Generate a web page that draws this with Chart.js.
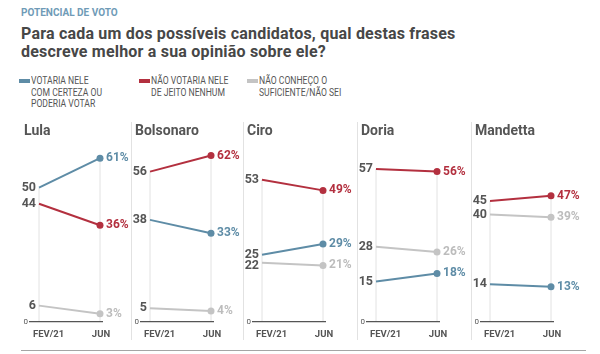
<!DOCTYPE html>
<html>
<head>
<meta charset="utf-8">
<script src="https://cdn.jsdelivr.net/npm/chart.js@4/dist/chart.umd.min.js"></script>
<style>
  body { margin: 0; background: #fff; width: 600px; height: 354px; position: relative; overflow: hidden; font-family: Roboto, "Noto Sans", sans-serif; }
  .kicker { position: absolute; left: 21px; top: 7px; font-size: 10px; font-weight: 700; color: #6f9bb7; }
  .head { position: absolute; left: 21px; top: 25px; font-size: 16px; line-height: 18px; font-weight: 700; color: #474747; letter-spacing: 0.2px; }
  .leg { position: absolute; top: 75px; font-size: 10px; line-height: 11.5px; color: #555; text-transform: uppercase; }
  .leg span.sw { position: absolute; left: -12px; top: 4px; width: 11px; height: 3.5px; }
  .leg div { transform: scaleX(0.86); transform-origin: left; white-space: nowrap; }
  .panel { position: absolute; top: 115px; width: 114px; height: 235px; }
  .sep { position: absolute; top: 122px; height: 218px; width: 1px; background: #e2e2e2; }
  .rule { position: absolute; left: 21px; top: 350px; width: 565px; height: 1px; background: #a5a5a5; }
</style>
</head>
<body>
<div class="kicker">POTENCIAL DE VOTO</div>
<div class="head">Para cada um dos possíveis candidatos, qual destas frases<br>descreve melhor a sua opinião sobre ele?</div>
<div id="legend"></div>
<div id="panels"></div>
<div class="rule"></div>
<script>
// pesquisa: potencial de voto por candidato
const categories = ['FEV/21', 'JUN'];
const candidates = ['Lula', 'Bolsonaro', 'Ciro', 'Doria', 'Mandetta'];
const seriesNames = ['Votaria nele com certeza ou poderia votar', 'Não votaria nele de jeito nenhum', 'Não conheço o suficiente/não sei'];
const votaria = [[50, 61], [38, 33], [25, 29], [15, 18], [14, 13]];
const naoVotaria = [[44, 36], [56, 62], [53, 49], [57, 56], [45, 47]];
const naoConheco = [[6, 3], [5, 4], [22, 21], [28, 26], [40, 39]];

const colors = ['#5e8ca6', '#b3303f', '#c4c4c4'];
const labelColors = ['#5e8ca6', '#b3303f', '#bcbcbc'];
const legendLines = [['Votaria nele', 'com certeza ou', 'poderia votar'], ['Não votaria nele', 'de jeito nenhum'], ['Não conheço o', 'suficiente/não sei']];
const legendX = [31, 151, 259];
const panelLeft = [20, 131, 243, 357, 471];

// legend
const legEl = document.getElementById('legend');
legendLines.forEach((lines, i) => {
  const d = document.createElement('div');
  d.className = 'leg';
  d.style.left = legendX[i] + 'px';
  d.innerHTML = '<span class="sw" style="background:' + colors[i] + '"></span><div>' + lines.join('<br>') + '</div>';
  legEl.appendChild(d);
});

const font = (size, w) => w + ' ' + size + 'px Roboto, "Noto Sans", sans-serif';

const decor = {
  id: 'decor',
  afterDatasetsDraw(chart, args, opts) {
    const ctx = chart.ctx;
    const x = chart.scales.x, y = chart.scales.y;
    const x0 = x.getPixelForValue(0), x1 = x.getPixelForValue(1), yz = y.getPixelForValue(0);
    ctx.save();
    // title
    ctx.fillStyle = '#555';
    ctx.font = font(14, 700);
    ctx.textBaseline = 'middle';
    ctx.textAlign = 'left';
    ctx.fillText(opts.title, 4, 16.5);
    // zero axis
    ctx.strokeStyle = '#555';
    ctx.lineWidth = 1.3;
    ctx.beginPath();
    ctx.moveTo(x0 - 10, yz);
    ctx.lineTo(x1 + 3, yz);
    ctx.stroke();
    ctx.font = font(8, 400);
    ctx.textAlign = 'right';
    ctx.fillStyle = '#555';
    ctx.fillText('0', x0 - 11, yz);
    // category labels
    ctx.font = font(9.5, 700);
    ctx.textAlign = 'left';
    ctx.fillText(categories[0], x0 - 6, 220);
    ctx.textAlign = 'center';
    ctx.fillText(categories[1], x1 + 1, 220);
    // value labels
    const vals = opts.values;
    const left = vals.map((v, i) => ({ v: v[0], i, py: y.getPixelForValue(v[0]) })).sort((a, b) => a.py - b.py);
    for (let k = 1; k < left.length; k++) {
      if (left[k].py - left[k - 1].py < 11) left[k].py = left[k - 1].py + 11;
    }
    ctx.font = font(12.5, 700);
    ctx.textAlign = 'right';
    ctx.fillStyle = '#555';
    left.forEach(l => ctx.fillText(String(l.v), x0 - 3, l.py));
    ctx.textAlign = 'left';
    ctx.font = font(12, 700);
    vals.forEach((v, i) => {
      ctx.fillStyle = labelColors[i];
      ctx.fillText(v[1] + '%', x1 + 6, y.getPixelForValue(v[1]));
    });
    ctx.restore();
  }
};

const panelsEl = document.getElementById('panels');
candidates.forEach((name, p) => {
  if (p > 0) {
    const s = document.createElement('div');
    s.className = 'sep';
    s.style.left = panelLeft[p] + 'px';
    panelsEl.appendChild(s);
  }
  const div = document.createElement('div');
  div.className = 'panel';
  div.style.left = panelLeft[p] + 'px';
  const cv = document.createElement('canvas');
  div.appendChild(cv);
  panelsEl.appendChild(div);

  const vals = [votaria[p], naoVotaria[p], naoConheco[p]];
  const series = vals.map((v, i) => ({
    label: seriesNames[i],
    data: v.map((val, j) => ({ x: j, y: val })),
    borderColor: colors[i],
    backgroundColor: colors[i],
    borderWidth: 2,
    pointRadius: [0, 3.5],
    pointBorderWidth: 0,
    clip: false
  }));
  const grid = [0, 1].map(j => ({
    label: 'grid' + j,
    data: [{ x: j, y: 0 }, { x: j, y: Math.max(...vals.map(v => v[j])) }],
    borderColor: '#e2e2e2',
    borderWidth: 1,
    pointRadius: 0,
    clip: false
  }));

  new Chart(cv, {
    type: 'line',
    data: { datasets: series.concat(grid) },
    options: {
      responsive: true,
      maintainAspectRatio: false,
      animation: false,
      layout: { autoPadding: false, padding: { left: 19, right: 34, top: 32.5, bottom: 28.3 } },
      scales: {
        x: { type: 'linear', min: 0, max: 1, display: false },
        y: { min: 0, max: 65, display: false }
      },
      plugins: {
        legend: { display: false },
        tooltip: { enabled: false },
        decor: { title: name, values: vals }
      }
    },
    plugins: [decor]
  });
});
</script>
</body>
</html>
